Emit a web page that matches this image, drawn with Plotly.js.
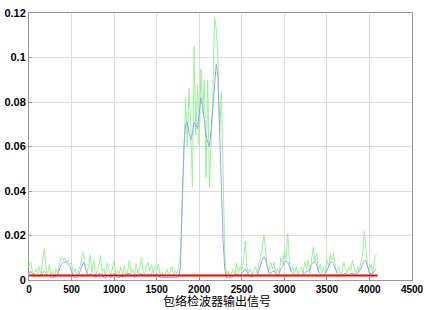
<!DOCTYPE html>
<html><head><meta charset="utf-8">
<script src="https://cdn.plot.ly/plotly-3.0.1.min.js"></script>
<style>html,body{margin:0;padding:0;background:#fff;}#chart{width:425px;height:310px;}</style>
</head><body><div id="chart"></div>
<script>
// sample step between listed values (samples 0..4080)
const sampleStep = 20;
// green: raw envelope detector output
const greenValues = [
0.006,0.008,0.004,0.002,0.005,0.003,0.006,0.002,0.009,0.014,
0.005,0.003,0.007,0.002,0.004,0.001,0.005,0.003,0.008,0.010,
0.009,0.010,0.008,0.009,0.007,0.008,0.003,0.005,0.002,0.004,
0.006,0.010,0.0125,0.006,0.003,0.006,0.0115,0.003,0.009,0.002,
0.004,0.006,0.011,0.003,0.005,0.002,0.008,0.004,0.002,0.005,
0.0085,0.002,0.004,0.003,0.006,0.002,0.0065,0.002,0.004,0.009,
0.003,0.005,0.002,0.0075,0.003,0.005,0.010,0.004,0.002,0.006,
0.008,0.004,0.007,0.003,0.006,0.0045,0.007,0.002,0.004,0.001,
0.003,0.005,0.002,0.004,0.006,0.002,0.004,0.003,0.006,0.012,
0.030,0.055,0.082,0.060,0.086,0.070,0.042,0.105,0.065,0.088,
0.060,0.095,0.075,0.090,0.046,0.090,0.042,0.065,0.081,0.118,
0.113,0.100,0.066,0.085,0.050,0.012,0.002,0.004,0.001,0.003,
0.005,0.002,0.008,0.003,0.006,0.004,0.009,0.0175,0.006,0.003,
0.005,0.002,0.004,0.006,0.003,0.007,0.010,0.014,0.0205,0.012,
0.006,0.004,0.008,0.005,0.008,0.003,0.005,0.003,0.010,0.007,
0.013,0.009,0.021,0.008,0.004,0.006,0.003,0.006,0.002,0.005,
0.006,0.003,0.0085,0.005,0.009,0.003,0.010,0.015,0.008,0.012,
0.004,0.007,0.003,0.006,0.003,0.009,0.006,0.0115,0.009,0.012,
0.005,0.004,0.006,0.002,0.004,0.008,0.005,0.003,0.006,0.004,
0.009,0.005,0.003,0.006,0.004,0.009,0.012,0.022,0.013,0.006,
0.004,0.007,0.003,0.010,0.0115
];
// blue: smoothed output
const blueValues = [
0.003,0.004,0.003,0.002,0.002,0.002,0.002,0.002,0.003,0.004,
0.003,0.002,0.002,0.001,0.001,0.001,0.002,0.003,0.005,0.007,
0.008,0.008,0.008,0.007,0.006,0.004,0.002,0.001,0.001,0.002,
0.004,0.006,0.008,0.006,0.003,0.002,0.003,0.002,0.002,0.001,
0.002,0.003,0.003,0.002,0.001,0.001,0.002,0.002,0.001,0.002,
0.003,0.002,0.001,0.001,0.002,0.001,0.002,0.002,0.003,0.003,
0.002,0.002,0.001,0.002,0.002,0.003,0.003,0.002,0.002,0.002,
0.003,0.002,0.003,0.002,0.002,0.003,0.002,0.001,0.001,0.001,
0.001,0.001,0.001,0.001,0.001,0.001,0.001,0.001,0.002,0.006,
0.035,0.060,0.070,0.071,0.066,0.063,0.066,0.071,0.070,0.068,
0.075,0.082,0.078,0.072,0.065,0.062,0.060,0.068,0.078,0.090,
0.097,0.091,0.065,0.038,0.018,0.005,0.001,0.001,0.001,0.001,
0.002,0.002,0.003,0.002,0.002,0.003,0.004,0.005,0.004,0.002,
0.002,0.001,0.002,0.002,0.002,0.004,0.007,0.009,0.0105,0.009,
0.006,0.003,0.003,0.004,0.004,0.003,0.002,0.003,0.005,0.006,
0.008,0.0085,0.008,0.006,0.004,0.003,0.002,0.002,0.002,0.002,
0.002,0.003,0.003,0.004,0.004,0.005,0.007,0.008,0.0078,0.007,
0.004,0.003,0.002,0.002,0.003,0.004,0.006,0.008,0.008,0.007,
0.005,0.003,0.002,0.002,0.002,0.003,0.003,0.002,0.002,0.003,
0.003,0.003,0.002,0.003,0.004,0.005,0.007,0.009,0.0085,0.005,
0.003,0.003,0.003,0.004,0.005
];
// red: threshold line
const thresholdX = [1, 4096];
const thresholdY = [0.002, 0.002];
const xTicks = [0,500,1000,1500,2000,2500,3000,3500,4000,4500];
const yTicks = [0,0.02,0.04,0.06,0.08,0.1,0.12];
const yTickText = ['0','0.02','0.04','0.06','0.08','0.1','0.12'];
const xTitle = '包络检波器输出信号';

const xs = greenValues.map((_, i) => i * sampleStep);

const traces = [
  {x: xs, y: greenValues, type:'scatter', mode:'lines', line:{color:'rgb(150,245,150)', width:1}, hoverinfo:'skip'},
  {x: xs, y: blueValues, type:'scatter', mode:'lines', line:{color:'rgb(160,160,248)', width:1}, hoverinfo:'skip'},
  {x: thresholdX, y: thresholdY, type:'scatter', mode:'lines', line:{color:'#ff0000', width:2}, hoverinfo:'skip'}
];
const tickFont = {family:'Liberation Sans, Arial, sans-serif', size:11, color:'#000', weight:'bold'};
const xTickFont = {family:'Liberation Sans, Arial, sans-serif', size:10, color:'#000', weight:'bold'};
const layout = {
  width:425, height:310,
  margin:{l:29, r:13, t:13, b:30},
  paper_bgcolor:'#fff', plot_bgcolor:'#fff',
  showlegend:false,
  xaxis:{range:[0,4500], tickvals:xTicks, ticktext:xTicks.map(String), showgrid:true, gridcolor:'#dcdcdc', gridwidth:1,
    zeroline:false, showline:true, linecolor:'#999', linewidth:1, mirror:true, ticks:'inside', ticklen:3, tickcolor:'#999',
    tickfont:xTickFont},
  yaxis:{range:[0,0.12], tickvals:yTicks, ticktext:yTickText, showgrid:true, gridcolor:'#dcdcdc', gridwidth:1,
    zeroline:false, showline:true, linecolor:'#999', linewidth:1, mirror:true, ticks:'inside', ticklen:3, tickcolor:'#999',
    tickfont:tickFont},
  annotations:[{text:xTitle, xref:'paper', yref:'paper', x:0.49, y:-0.112, xanchor:'center', yanchor:'bottom',
    showarrow:false, borderpad:0, font:{family:'Noto Sans CJK SC', size:12, color:'#000'}}]
};
Plotly.newPlot('chart', traces, layout, {staticPlot:true, displayModeBar:false});
</script></body></html>
